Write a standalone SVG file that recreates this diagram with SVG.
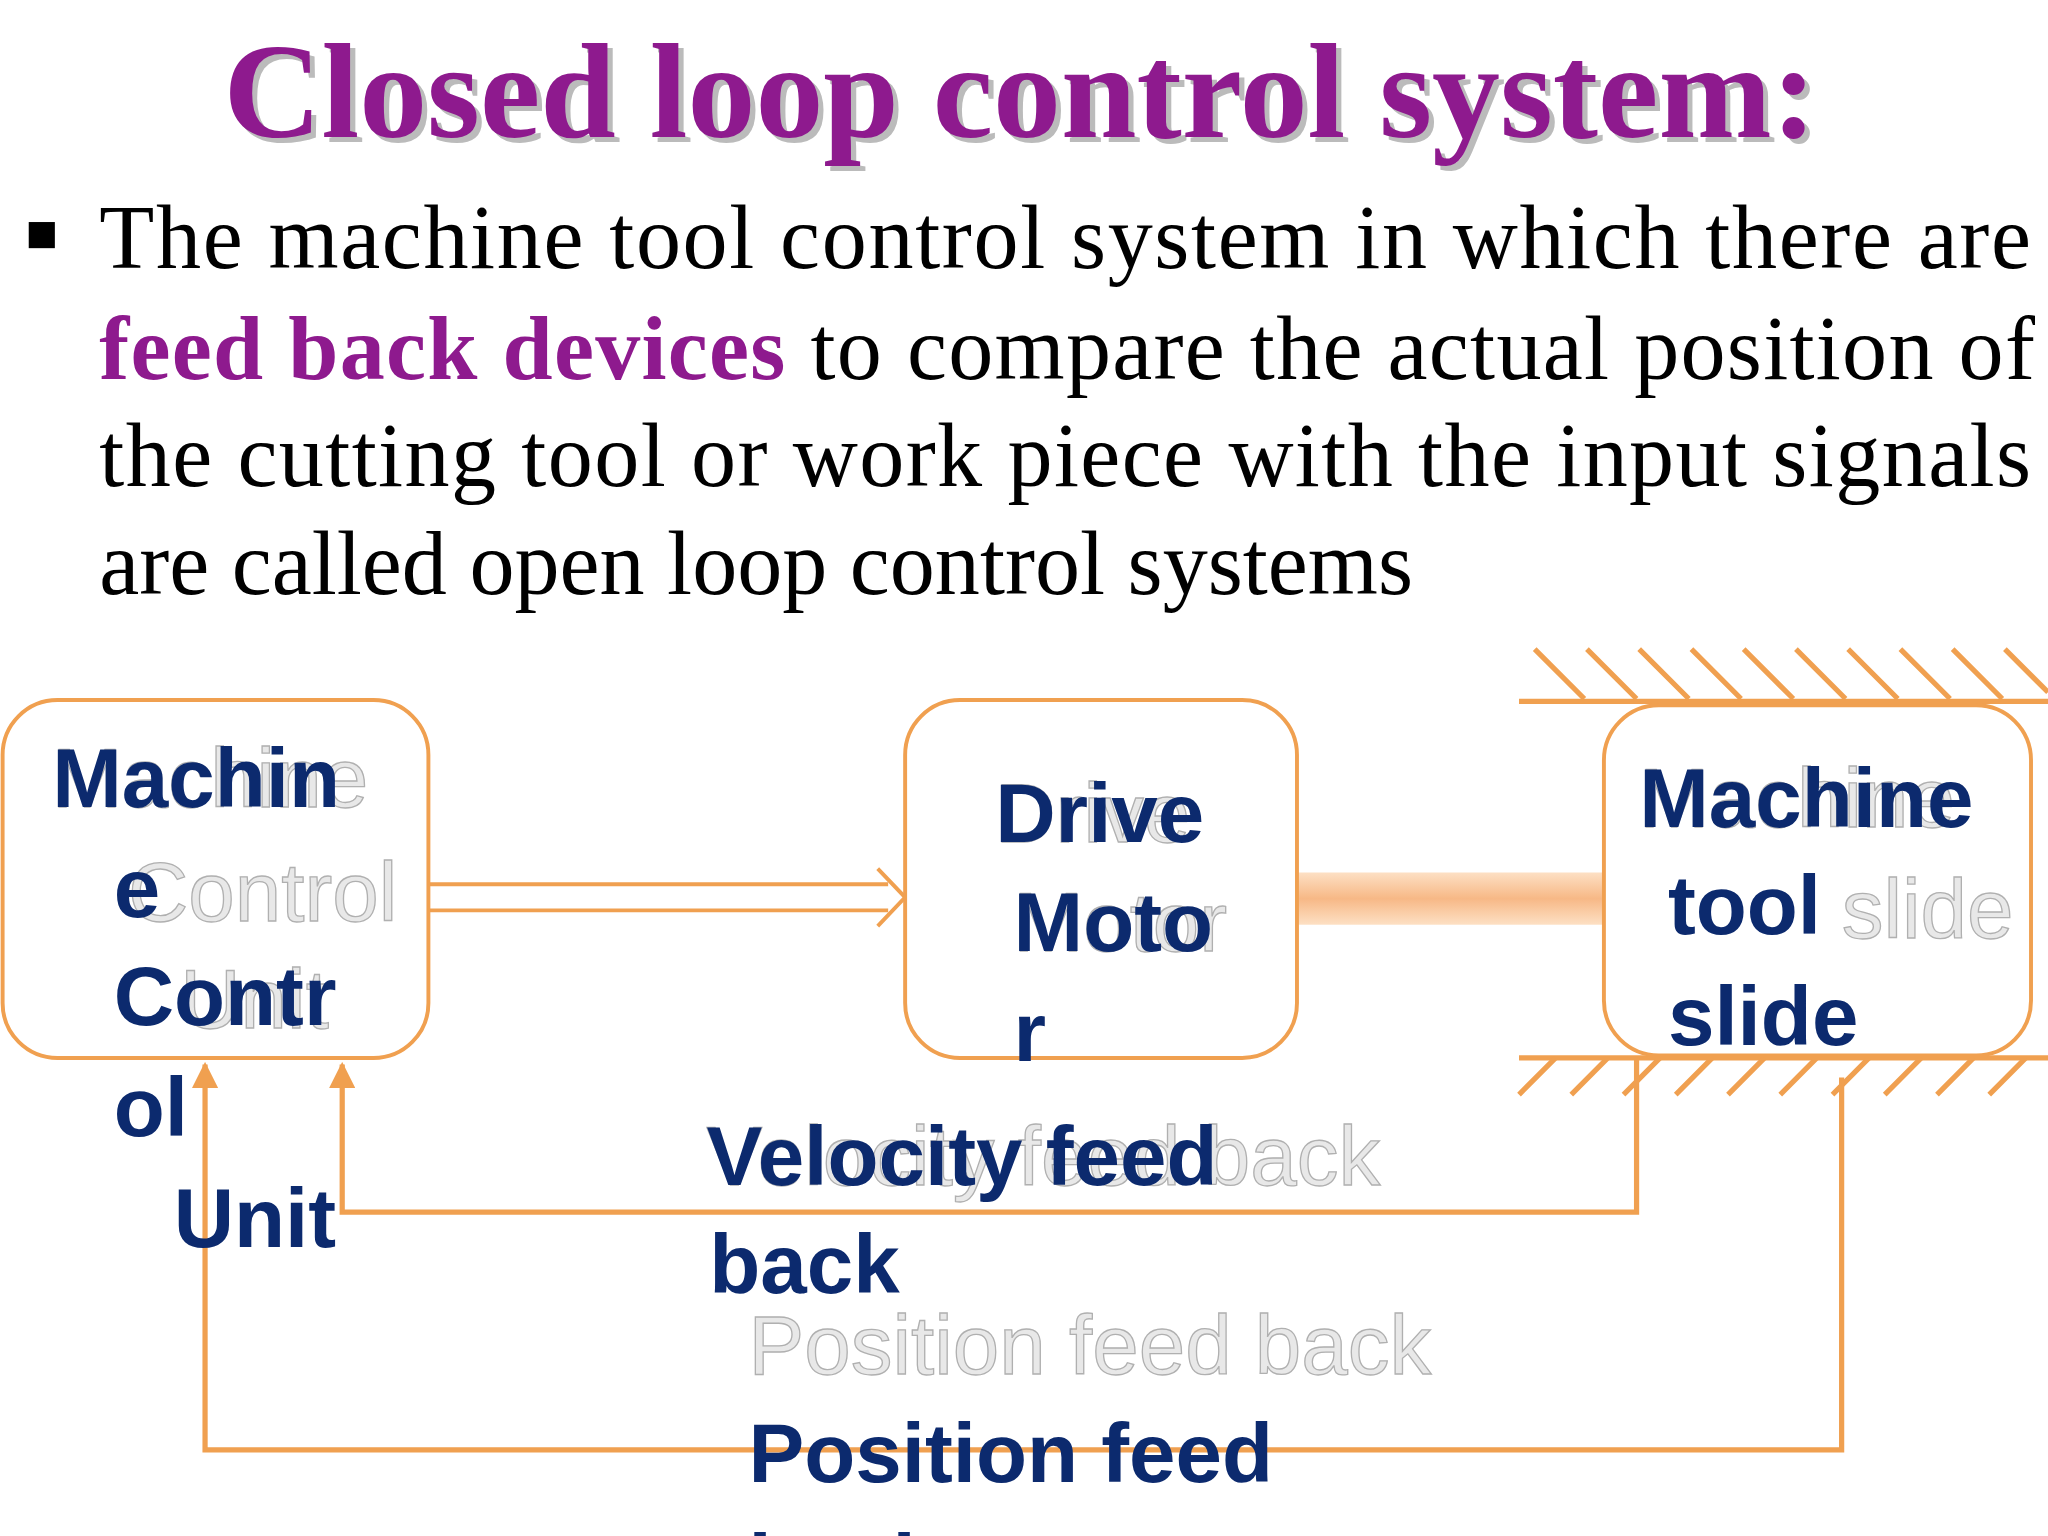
<svg xmlns="http://www.w3.org/2000/svg" width="2048" height="1536" viewBox="0 0 2048 1536">
<style>
.body{font-family:"Liberation Serif",serif;font-size:69px;fill:#000}
.lbl{font-family:"Liberation Sans",Arial,sans-serif;font-weight:bold;font-size:64px;fill:#0c2a6e}
.ghost{font-family:"Liberation Sans",Arial,sans-serif;font-size:64px;fill:#e8e8e8;stroke:#b0b0b0;stroke-width:1}
.box{fill:#fff;stroke:#f0a050;stroke-width:3}
.ln{fill:none;stroke:#f0a050;stroke-width:4}
</style>
<defs>
<marker id="ah" viewBox="0 0 10 10" refX="9" refY="5" markerWidth="5" markerHeight="5" orient="auto-start-reverse"><path d="M0,0 L10,5 L0,10 z" fill="#f0a050"/></marker>
<linearGradient id="bar" x1="0" y1="0" x2="0" y2="1"><stop offset="0" stop-color="#fde0c4"/><stop offset="0.5" stop-color="#f7b886"/><stop offset="1" stop-color="#fde0c4"/></linearGradient>
</defs>
<rect width="2048" height="1536" fill="#fff"/>
<g transform="scale(1.30612)">
<text x="781" y="105" text-anchor="middle" font-family="Liberation Serif,serif" font-weight="bold" font-size="104" fill="#bbb" transform="translate(4,4)">Closed loop control system:</text>
<text x="781" y="105" text-anchor="middle" font-family="Liberation Serif,serif" font-weight="bold" font-size="104" fill="#8e1a8e">Closed loop control system:</text>
<rect x="22" y="170" width="20" height="20" fill="#000"/>
<text class="body" x="76" y="205" textLength="1479" lengthAdjust="spacing">The machine tool control system in which there are</text>
<text class="body" x="76" y="290" textLength="1482" lengthAdjust="spacing"><tspan fill="#8e1a8e" font-weight="bold">feed back devices</tspan> to compare the actual position of</text>
<text class="body" x="76" y="372" textLength="1479" lengthAdjust="spacing">the cutting tool or work piece with the input signals</text>
<text class="body" x="76" y="455">are called open loop control systems</text>

<g id="hatch" class="ln" style="stroke-width:4">
<line x1="1163" y1="537" x2="1568" y2="537"/>
<line x1="1163" y1="810" x2="1568" y2="810"/>
<path d="M1175,497 l38,38 M1215,497 l38,38 M1255,497 l38,38 M1295,497 l38,38 M1335,497 l38,38 M1375,497 l38,38 M1415,497 l38,38 M1455,497 l38,38 M1495,497 l38,38 M1535,497 l33,33"/>
<path d="M1163,838 l28,-28 M1203,838 l28,-28 M1243,838 l28,-28 M1283,838 l28,-28 M1323,838 l28,-28 M1363,838 l28,-28 M1403,838 l28,-28 M1443,838 l28,-28 M1483,838 l28,-28 M1523,838 l28,-28"/>
</g>

<g id="connectors">
<path d="M328,677 H680 M328,697 H680" class="ln" style="stroke-width:3"/>
<path d="M672,665 L693,687 L672,709" fill="none" stroke="#f0a050" stroke-width="3"/>
<rect x="993" y="668" width="235" height="40" fill="url(#bar)"/>
<line x1="1312" y1="760" x2="1486" y2="760" class="ln" marker-start="url(#ah)" marker-end="url(#ah)"/>
<path d="M1253,810 V928 H262 V815" class="ln" marker-end="url(#ah)"/>
<path d="M1410,825 V1110 H157 V815" class="ln" marker-end="url(#ah)"/>
</g>

<g id="mcu">
<rect class="box" x="2" y="536" width="326" height="274" rx="42"/>
<text class="ghost" x="40" y="618">Machine</text>
<text class="ghost" x="98" y="705">Control</text>
<text class="ghost" x="138" y="787">Unit</text>
<text class="lbl" x="40" y="618">Machin</text>
<text class="lbl" x="87" y="702">e</text>
<text class="lbl" x="87" y="785">Contr</text>
<text class="lbl" x="87" y="870">ol</text>
<text class="lbl" x="133" y="955">Unit</text>
</g>
<g id="motor">
<rect class="box" x="693" y="536" width="300" height="274" rx="42"/>
<text class="ghost" x="762" y="645">Drive</text>
<text class="ghost" x="776" y="728">Motor</text>
<text class="lbl" x="762" y="645">Drive</text>
<text class="lbl" x="776" y="728">Moto</text>
<text class="lbl" x="776" y="812">r</text>
</g>
<g id="slide">
<rect class="box" x="1228" y="540" width="327" height="268" rx="42"/>
<text class="ghost" x="1255" y="633">Machine</text>
<text class="ghost" x="1410" y="718">slide</text>
<text class="lbl" x="1255" y="633">Machine</text>
<text class="lbl" x="1277" y="715">tool</text>
<text class="lbl" x="1277" y="800">slide</text>
</g>
<g id="labels">
<text class="ghost" x="541" y="907">Velocity feed back</text>
<text class="lbl" x="541" y="907">Velocity feed</text>
<text class="lbl" x="543" y="990">back</text>
<text class="ghost" x="573" y="1052">Position  feed back</text>
<text class="lbl" x="573" y="1135">Position feed</text>
<text class="lbl" x="573" y="1220">back</text>
</g>
</g>
</svg>
